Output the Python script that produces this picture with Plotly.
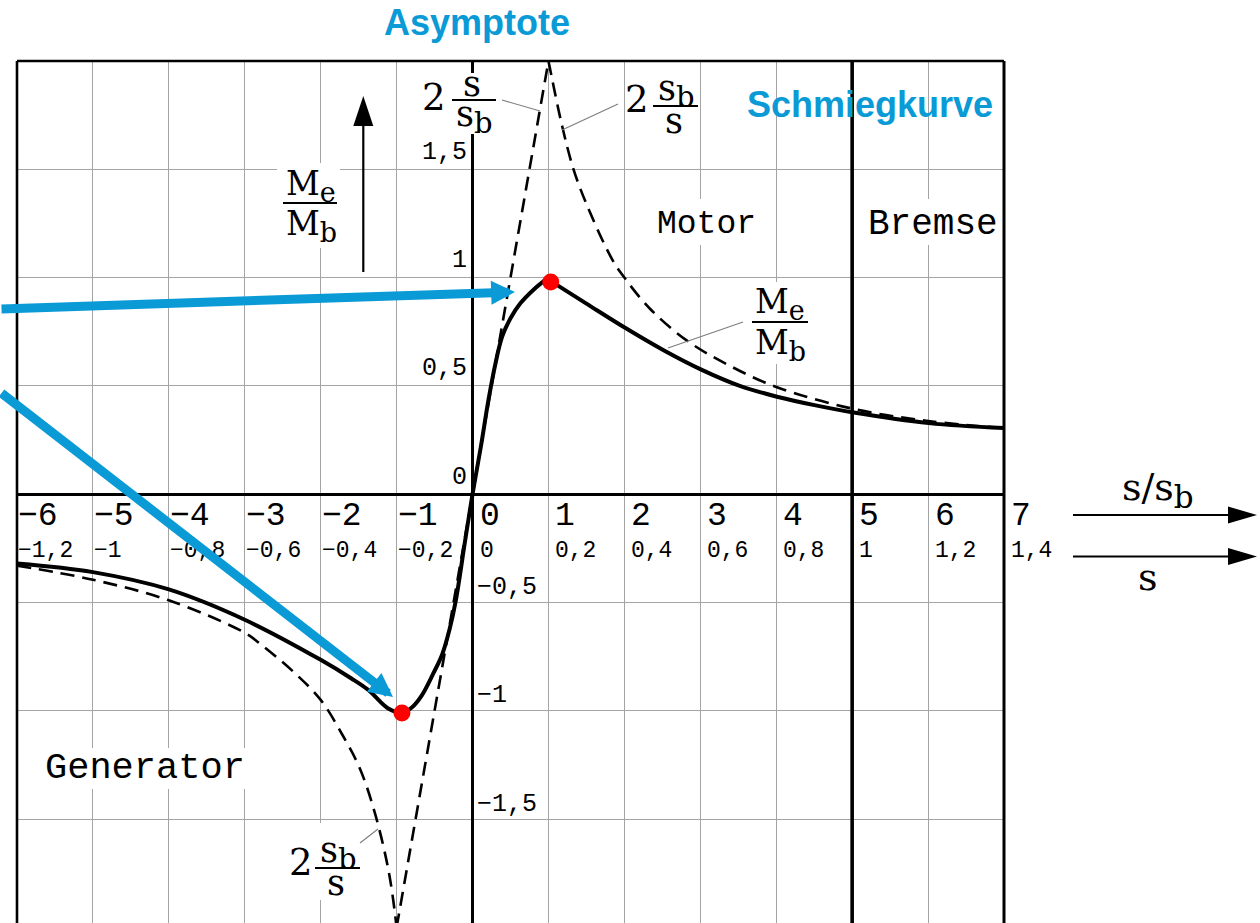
import plotly.graph_objects as go

# ---- axis labelling -------------------------------------------------------
slip_ratio_ticks = [-6, -5, -4, -3, -2, -1, 0, 1, 2, 3, 4, 5, 6, 7]
slip_ratio_labels = ["−6", "−5", "−4", "−3", "−2", "−1", "0", "1", "2", "3", "4", "5", "6", "7"]
slip_labels = ["−1,2", "−1", "−0,8", "−0,6", "−0,4", "−0,2", "0",
               "0,2", "0,4", "0,6", "0,8", "1", "1,2", "1,4"]
torque_ticks = [1.5, 1.0, 0.5, 0.0, -0.5, -1.0, -1.5, -2.0]
torque_labels = ["1,5", "1", "0,5", "0", "−0,5", "−1", "−1,5", "−2"]

# ---- torque characteristic Me/Mb over s/sb ---------------------------------
# rising branch up to the motor breakdown point
curve_rise_x = [-6.0, -5.0, -4.0, -3.0, -2.0, -1.6, -1.37, -1.11, -0.93, -0.80, -0.67,
                -0.52, -0.40, -0.30, -0.22, -0.10, 0.0, 0.11, 0.21, 0.30, 0.39, 0.50,
                0.63, 0.80, 0.98]
curve_rise_y = [-0.32, -0.36, -0.44, -0.58, -0.765, -0.85, -0.905, -0.99, -1.01, -0.985,
                -0.93, -0.83, -0.74, -0.62, -0.49, -0.22, 0.0, 0.22, 0.435, 0.60, 0.727,
                0.812, 0.881, 0.943, 0.995]
# falling branch towards the brake region
curve_fall_x = [0.98, 1.5, 2.02, 2.51, 3.02, 3.52, 4.01, 4.52, 5.02, 6.01, 7.0]
curve_fall_y = [0.995, 0.88, 0.766, 0.666, 0.574, 0.50, 0.45, 0.41, 0.377, 0.328, 0.305]

# asymptote 2 s/sb (straight line through the origin)
line_asym_x = [-1.0, 1.0]
line_asym_y = [-2.0, 2.0]

# osculating curve 2 sb/s, motor branch
hyp_pos_x = [1.0, 1.18, 1.33, 1.5, 1.83, 2.0, 2.34, 2.82, 3.35, 4.0, 5.0, 6.0, 7.0]
hyp_pos_y = [2.0, 1.70, 1.50, 1.34, 1.09, 1.0, 0.855, 0.71, 0.60, 0.495, 0.395, 0.338, 0.305]

# osculating curve 2 sb/s, generator branch
hyp_neg_x = [-6.0, -5.0, -4.0, -3.0, -2.8, -2.36, -2.0, -1.7, -1.48, -1.28, -1.1, -1.0]
hyp_neg_y = [-0.33, -0.395, -0.49, -0.64, -0.69, -0.82, -0.95, -1.12, -1.27, -1.48, -1.75, -2.0]

# breakdown torque points
break_x = [-0.93, 1.03]
break_y = [-1.01, 0.98]

BLUE = "#0a9ad6"
GRID = "#a4a4a4"
MONO = "Liberation Mono"
SERIF = "DejaVu Serif"
DASH = dict(color="black", width=2.6, dash="14px,8px")

# ---- canvas geometry --------------------------------------------------------
W, H = 1260, 923
ML, MR, MT, MB = 17, 256, 61, 0
PW, PH = W - ML - MR, H - MT - MB


def paper(px, py):
    """Pixel position on the page -> paper coordinates."""
    return (px - ML) / PW, (H - MB - py) / PH


fig = go.Figure()

fig.add_trace(go.Scatter(x=line_asym_x, y=line_asym_y, mode="lines", line=DASH, hoverinfo="skip"))
for hx, hy in [(hyp_pos_x, hyp_pos_y), (hyp_neg_x, hyp_neg_y)]:
    fig.add_trace(go.Scatter(x=hx, y=hy, mode="lines",
                             line=dict(DASH, shape="spline", smoothing=1.0), hoverinfo="skip"))
for cx, cy in [(curve_rise_x, curve_rise_y), (curve_fall_x, curve_fall_y)]:
    fig.add_trace(go.Scatter(x=cx, y=cy, mode="lines",
                             line=dict(color="black", width=4, shape="spline", smoothing=1.0),
                             hoverinfo="skip"))
fig.add_trace(go.Scatter(x=break_x, y=break_y, mode="markers",
                         marker=dict(color="#ff0000", size=17, line=dict(width=0)),
                         hoverinfo="skip"))

fig.update_xaxes(range=[-6, 7], tick0=0, dtick=1, showgrid=True, gridcolor=GRID, gridwidth=1.3,
                 zeroline=True, zerolinecolor="black", zerolinewidth=3,
                 showticklabels=False, ticks="", showline=False, fixedrange=True)
fig.update_yaxes(range=[-1.98, 2.0], tick0=0, dtick=0.5, showgrid=True, gridcolor=GRID, gridwidth=1.3,
                 zeroline=True, zerolinecolor="black", zerolinewidth=3.3,
                 showticklabels=False, ticks="", showline=False, fixedrange=True)

shapes = []


def rect(x0, y0, x1, y1):
    a, b = paper(x0, y1)
    c, d = paper(x1, y0)
    shapes.append(dict(type="rect", xref="paper", yref="paper", x0=a, y0=b, x1=c, y1=d,
                       fillcolor="white", line=dict(width=0), layer="above"))


def seg(x0, y0, x1, y1, color="black", width=1.0):
    a, b = paper(x0, y0)
    c, d = paper(x1, y1)
    shapes.append(dict(type="line", xref="paper", yref="paper", x0=a, y0=b, x1=c, y1=d,
                       line=dict(color=color, width=width), layer="above"))


def tri(points, color="black"):
    p = [paper(x, y) for x, y in points]
    path = "M{},{} L{},{} L{},{} Z".format(p[0][0], p[0][1], p[1][0], p[1][1], p[2][0], p[2][1])
    shapes.append(dict(type="path", xref="paper", yref="paper", path=path,
                       fillcolor=color, line=dict(width=0), layer="above"))


# label backgrounds interrupting the grid
rect(420, 73, 500, 134)     # 2 s/sb
rect(628, 76, 700, 136)     # 2 sb/s (top)
rect(277, 163, 340, 248)    # Me/Mb (left)
rect(650, 199, 762, 245)    # Motor
rect(862, 199, 1001, 245)   # Bremse
rect(745, 282, 812, 364)    # Me/Mb (right)
rect(38, 748, 252, 789)     # Generator
rect(288, 823, 366, 900)    # 2 sb/s (bottom)

# fraction bars
seg(452, 100, 496, 100, width=2)
seg(653, 106, 698, 106, width=2)
seg(283, 203, 337, 203, width=2)
seg(752, 322, 808, 322, width=2)
seg(315, 868, 360, 868, width=2)

# leader lines
LEAD = "#7d7d7d"
seg(502, 100, 540, 111, LEAD, 1.1)
seg(618, 104, 562, 130, LEAD, 1.1)
seg(743, 322, 668, 348, LEAD, 1.1)
seg(360, 843, 378, 829, LEAD, 1.1)

# frame and region boundary
shapes.append(dict(type="line", xref="x", yref="paper", x0=5, x1=5, y0=0, y1=1,
                   line=dict(color="black", width=3.6), layer="above"))
shapes.append(dict(type="line", xref="paper", yref="paper", x0=0, x1=1, y0=1, y1=1,
                   line=dict(color="black", width=2.6), layer="above"))
shapes.append(dict(type="line", xref="paper", yref="paper", x0=0, x1=0, y0=0, y1=1,
                   line=dict(color="black", width=2.6), layer="above"))
shapes.append(dict(type="line", xref="paper", yref="paper", x0=1, x1=1, y0=0, y1=1,
                   line=dict(color="black", width=3), layer="above"))

# torque direction arrow
seg(363.3, 272, 363.3, 120, width=2.2)
tri([(363.3, 96), (353.3, 126), (373.3, 126)])

# slip direction arrows
seg(1073, 515, 1232, 515, width=2.2)
tri([(1257, 515), (1228, 506.5), (1228, 523.5)])
seg(1073, 556.5, 1232, 556.5, width=2.2)
tri([(1257, 556.5), (1228, 548), (1228, 565)])

annotations = []


def text(t, px, py, size, family=MONO, xanchor="center", yanchor="middle", color="black", weight=None):
    x, y = paper(px, py)
    f = dict(family=family, size=size, color=color)
    if weight:
        f["weight"] = weight
    annotations.append(dict(text=t, x=x, y=y, xref="paper", yref="paper", xanchor=xanchor,
                            yanchor=yanchor, showarrow=False, font=f, borderpad=0))


def sub(base, index, size):
    """Letter with a large, lowered index."""
    return "{}<sub><span style='font-size:{}px'>{}</span></sub>".format(base, round(size * 0.82), index)


# slip tick labels inside the plot, two rows
for v, lab1, lab2 in zip(slip_ratio_ticks, slip_ratio_labels, slip_labels):
    shift = 0 if v < 0 else 6
    annotations.append(dict(text=lab1, x=v, y=0, xref="x", yref="y", xanchor="left",
                            yanchor="middle", xshift=shift, yshift=-22, showarrow=False,
                            font=dict(family=MONO, size=33, color="black"), borderpad=0))
    annotations.append(dict(text=lab2, x=v, y=0, xref="x", yref="y", xanchor="left",
                            yanchor="middle", xshift=shift, yshift=-57, showarrow=False,
                            font=dict(family=MONO, size=23, color="black"), borderpad=0))

# torque tick labels along the vertical axis
for v, lab in zip(torque_ticks, torque_labels):
    if v >= 0:
        annotations.append(dict(text=lab, x=0, y=v, xref="x", yref="y", xanchor="right",
                                yanchor="middle", xshift=-5, yshift=17, showarrow=False,
                                font=dict(family=MONO, size=25, color="black"), borderpad=0))
    else:
        annotations.append(dict(text=lab, x=0, y=v, xref="x", yref="y", xanchor="left",
                                yanchor="middle", xshift=3, yshift=15, showarrow=False,
                                font=dict(family=MONO, size=25, color="black"), borderpad=0))

# region names
text("Motor", 706, 224, 33)
text("Bremse", 933, 224, 36)
text("Generator", 145, 768, 37)

# formula labels
text("2", 434, 97, 37, SERIF)
text("s", 472, 84, 35, SERIF)
text(sub("s", "b", 35), 474, 117, 35, SERIF)

text("2", 637, 100, 37, SERIF)
text(sub("s", "b", 35), 676, 91, 35, SERIF)
text("s", 674, 121, 35, SERIF)

text(sub("M", "e", 33), 311, 186, 33, SERIF)
text(sub("M", "b", 33), 311, 226, 33, SERIF)

text(sub("M", "e", 33), 780, 304, 33, SERIF)
text(sub("M", "b", 33), 780, 345, 33, SERIF)

text("2", 301, 862, 37, SERIF)
text(sub("s", "b", 35), 338, 853, 35, SERIF)
text("s", 336, 883, 35, SERIF)

text(sub("s/s", "b", 38), 1158, 490, 38, SERIF)
text("s", 1148, 577, 38, SERIF)

# blue headings
text("Asymptote", 477, 23, 36, "Liberation Sans", color=BLUE, weight="bold")
text("Schmiegkurve", 870, 104, 36, "Liberation Sans", color=BLUE, weight="bold")

# blue pointer arrows
for tail, tip in [((0, 309), (515, 292)), ((0, 392), (393, 697))]:
    x, y = paper(*tip)
    annotations.append(dict(text="", x=x, y=y, xref="paper", yref="paper",
                            ax=tail[0] - tip[0], ay=tail[1] - tip[1], axref="pixel", ayref="pixel",
                            showarrow=True, arrowhead=2, arrowsize=0.53, arrowwidth=9,
                            arrowcolor=BLUE, standoff=0))

fig.update_layout(width=W, height=H, autosize=False,
                  margin=dict(l=ML, r=MR, t=MT, b=MB, pad=0),
                  plot_bgcolor="white", paper_bgcolor="white", showlegend=False,
                  shapes=shapes, annotations=annotations)

fig.write_html("out.html")
